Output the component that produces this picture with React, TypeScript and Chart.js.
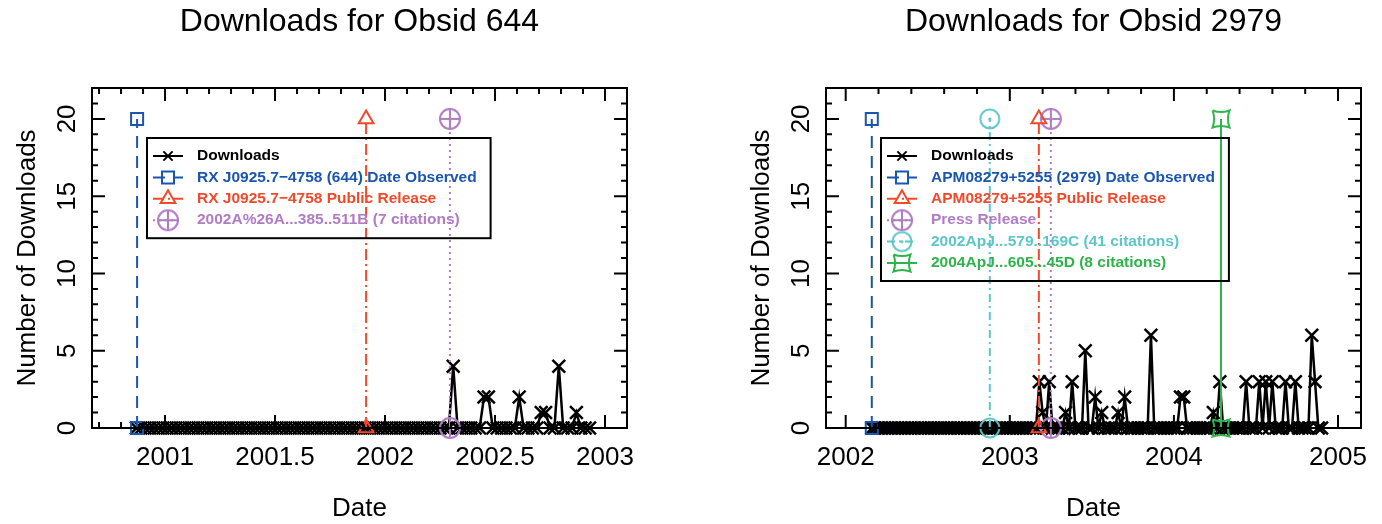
import React, { useEffect, useRef } from "react";
import { Chart, registerables } from "chart.js";
import { drawPoint } from "chart.js/helpers";

Chart.register(...registerables);

const FONT = '"Liberation Sans", Arial, Helvetica, sans-serif';
Chart.defaults.font.family = FONT;
Chart.defaults.color = "#000";

const BLACK = "#000000";
const BLUE = "#1a56b0";
const RED = "#f2492a";
const PURPLE = "#b07cc4";
const CYAN = "#5cc6c8";
const GREEN = "#2fb44c";

// ---------------- Left panel: Obsid 644 ----------------
const LEFT_TITLE = "Downloads for Obsid 644";
const LEFT_DATES = [
  2000.87, 2000.89, 2000.91, 2000.93, 2000.95, 2000.97, 2000.99,
  2001.01, 2001.03, 2001.05, 2001.07, 2001.09, 2001.11, 2001.13, 2001.15, 2001.17, 2001.19,
  2001.21, 2001.23, 2001.25, 2001.27, 2001.29, 2001.31, 2001.33, 2001.35, 2001.37, 2001.39,
  2001.41, 2001.43, 2001.45, 2001.47, 2001.49, 2001.51, 2001.53, 2001.55, 2001.57, 2001.59,
  2001.61, 2001.63, 2001.65, 2001.67, 2001.69, 2001.71, 2001.73, 2001.75, 2001.77, 2001.79,
  2001.81, 2001.83, 2001.85, 2001.87, 2001.89, 2001.91, 2001.93, 2001.95, 2001.97, 2001.99,
  2002.01, 2002.03, 2002.05, 2002.07, 2002.09, 2002.11, 2002.13, 2002.15, 2002.17, 2002.19,
  2002.21, 2002.23, 2002.25, 2002.27, 2002.29, 2002.31, 2002.33, 2002.35, 2002.37, 2002.39,
  2002.41, 2002.43, 2002.45, 2002.47, 2002.49, 2002.51, 2002.53, 2002.55, 2002.57, 2002.59,
  2002.61, 2002.63, 2002.65, 2002.67, 2002.69, 2002.71, 2002.73, 2002.75, 2002.77, 2002.79,
  2002.81, 2002.83, 2002.85, 2002.87, 2002.89, 2002.91, 2002.93,
];
const LEFT_DOWNLOADS = [
  0, 0, 0, 0, 0, 0, 0,
  0, 0, 0, 0, 0, 0, 0, 0, 0, 0,
  0, 0, 0, 0, 0, 0, 0, 0, 0, 0,
  0, 0, 0, 0, 0, 0, 0, 0, 0, 0,
  0, 0, 0, 0, 0, 0, 0, 0, 0, 0,
  0, 0, 0, 0, 0, 0, 0, 0, 0, 0,
  0, 0, 0, 0, 0, 0, 0, 0, 0, 0,
  0, 0, 0, 0, 0, 4, 0, 0, 0, 0,
  0, 0, 2, 2, 0, 0, 0, 0, 0, 0,
  2, 0, 0, 0, 0, 1, 1, 0, 0, 4,
  0, 0, 0, 1, 0, 0, 0,
];
const LEFT_EVENT_LABELS = [
  "RX J0925.7\u22124758 (644) Date Observed",
  "RX J0925.7\u22124758 Public Release",
  "2002A%26A...385..511B (7 citations)",
];
const LEFT_EVENT_DATES = [2000.873, 2001.914, 2002.295];
const LEFT_EVENT_KINDS = ["observed", "release", "press"];
const LEFT_X_RANGE = [2000.668, 2003.1];
const LEFT_X_LABELS = [2001, 2001.5, 2002, 2002.5, 2003];
const LEFT_X_MINOR = 0.1;

// ---------------- Right panel: Obsid 2979 ----------------
const RIGHT_TITLE = "Downloads for Obsid 2979";
const RIGHT_DATES = [
  2002.16, 2002.18,
  2002.2, 2002.22, 2002.24, 2002.26, 2002.28, 2002.3, 2002.32, 2002.34, 2002.36, 2002.38,
  2002.4, 2002.42, 2002.44, 2002.46, 2002.48, 2002.5, 2002.52, 2002.54, 2002.56, 2002.58,
  2002.6, 2002.62, 2002.64, 2002.66, 2002.68, 2002.7, 2002.72, 2002.74, 2002.76, 2002.78,
  2002.8, 2002.82, 2002.84, 2002.86, 2002.88, 2002.9, 2002.92, 2002.94, 2002.96, 2002.98,
  2003.0, 2003.02, 2003.04, 2003.06, 2003.08, 2003.1, 2003.12, 2003.14, 2003.16, 2003.18,
  2003.2, 2003.22, 2003.24, 2003.26, 2003.28, 2003.3, 2003.32, 2003.34, 2003.36, 2003.38,
  2003.4, 2003.42, 2003.44, 2003.46, 2003.48, 2003.5, 2003.52, 2003.54, 2003.56, 2003.58,
  2003.6, 2003.62, 2003.64, 2003.66, 2003.68, 2003.7, 2003.72, 2003.74, 2003.76, 2003.78,
  2003.8, 2003.82, 2003.84, 2003.86, 2003.88, 2003.9, 2003.92, 2003.94, 2003.96, 2003.98,
  2004.0, 2004.02, 2004.04, 2004.06, 2004.08, 2004.1, 2004.12, 2004.14, 2004.16, 2004.18,
  2004.2, 2004.22, 2004.24, 2004.26, 2004.28, 2004.3, 2004.32, 2004.34, 2004.36, 2004.38,
  2004.4, 2004.42, 2004.44, 2004.46, 2004.48, 2004.5, 2004.52, 2004.54, 2004.56, 2004.58,
  2004.6, 2004.62, 2004.64, 2004.66, 2004.68, 2004.7, 2004.72, 2004.74, 2004.76, 2004.78,
  2004.8, 2004.82, 2004.84, 2004.86, 2004.88, 2004.9,
];
const RIGHT_DOWNLOADS = [
  0, 0,
  0, 0, 0, 0, 0, 0, 0, 0, 0, 0,
  0, 0, 0, 0, 0, 0, 0, 0, 0, 0,
  0, 0, 0, 0, 0, 0, 0, 0, 0, 0,
  0, 0, 0, 0, 0, 0, 0, 0, 0, 0,
  0, 0, 0, 0, 0, 0, 0, 0, 0, 3,
  1, 0, 3, 0, 0, 0, 0, 1, 0, 3,
  0, 0, 0, 5, 0, 0, 2, 0, 1, 0,
  0, 0, 0, 1, 0, 2, 0, 0, 0, 0,
  0, 0, 0, 6, 0, 0, 0, 0, 0, 0,
  0, 0, 2, 2, 0, 0, 0, 0, 0, 0,
  0, 0, 1, 0, 3, 0, 0, 0, 0, 0,
  0, 0, 3, 0, 0, 0, 3, 0, 3, 0,
  3, 0, 0, 0, 3, 0, 0, 3, 0, 0,
  0, 0, 6, 3, 0, 0,
];
const RIGHT_EVENT_LABELS = [
  "APM08279+5255 (2979) Date Observed",
  "APM08279+5255 Public Release",
  "Press Release",
  "2002ApJ...579..169C (41 citations)",
  "2004ApJ...605...45D (8 citations)",
];
const RIGHT_EVENT_DATES = [2002.159, 2003.177, 2003.25, 2002.878, 2004.287];
const RIGHT_EVENT_KINDS = ["observed", "release", "press", "paperA", "paperB"];
const RIGHT_X_RANGE = [2001.88, 2005.14];
const RIGHT_X_LABELS = [2002, 2003, 2004, 2005];
const RIGHT_X_MINOR = 0.2;

// ---------------- shared axis values ----------------
const Y_RANGE = [0, 22];
const Y_LABELS = [0, 5, 10, 15, 20];
const Y_MINOR = 1;
const EVENT_SPAN = [0, 20];

function makeSymbol(size: number, draw: (g: CanvasRenderingContext2D, c: number) => void) {
  const cv = document.createElement("canvas");
  cv.width = size;
  cv.height = size;
  const g = cv.getContext("2d")!;
  draw(g, size / 2);
  return cv;
}

function buildStyles() {
  const circlePlus = makeSymbol(24, (g, c) => {
    g.strokeStyle = PURPLE;
    g.lineWidth = 2;
    g.beginPath();
    g.arc(c, c, 10, 0, Math.PI * 2);
    g.moveTo(c - 10, c);
    g.lineTo(c + 10, c);
    g.moveTo(c, c - 10);
    g.lineTo(c, c + 10);
    g.stroke();
  });
  const circleDot = makeSymbol(24, (g, c) => {
    g.strokeStyle = CYAN;
    g.fillStyle = CYAN;
    g.lineWidth = 2;
    g.beginPath();
    g.arc(c, c, 9.5, 0, Math.PI * 2);
    g.stroke();
    g.beginPath();
    g.arc(c, c, 1.6, 0, Math.PI * 2);
    g.fill();
  });
  const concave = makeSymbol(24, (g, c) => {
    const s = 8.5;
    const k = 3.2;
    g.strokeStyle = GREEN;
    g.lineWidth = 2;
    g.beginPath();
    g.moveTo(c - s, c - s);
    g.quadraticCurveTo(c, c - s + k, c + s, c - s);
    g.quadraticCurveTo(c + s - k, c, c + s, c + s);
    g.quadraticCurveTo(c, c + s - k, c - s, c + s);
    g.quadraticCurveTo(c - s + k, c, c - s, c - s);
    g.stroke();
  });
  return {
    observed: { color: BLUE, dash: [12, 8], point: "rect" as any, radius: 8.5 },
    release: { color: RED, dash: [11, 4, 2, 4], point: "triangle" as any, radius: 8.5 },
    press: { color: PURPLE, dash: [2, 4], point: circlePlus as any, radius: 10 },
    paperA: { color: CYAN, dash: [8, 4, 2, 4], point: circleDot as any, radius: 10 },
    paperB: { color: GREEN, dash: [] as number[], point: concave as any, radius: 10 },
  } as Record<string, { color: string; dash: number[]; point: any; radius: number }>;
}

const frameTicks = {
  id: "frameTicks",
  afterDraw(chart: any) {
    const { ctx, chartArea, scales } = chart;
    const { left, right, top, bottom } = chartArea;
    const x = scales.x;
    const y = scales.y;
    ctx.save();
    ctx.strokeStyle = "#000";
    ctx.lineWidth = 2;
    ctx.setLineDash([]);
    ctx.beginPath();
    for (const t of x.ticks) {
      const px = x.getPixelForValue(t.value);
      const len = t.label ? 13 : 6;
      ctx.moveTo(px, bottom);
      ctx.lineTo(px, bottom - len);
      ctx.moveTo(px, top);
      ctx.lineTo(px, top + len);
    }
    for (const t of y.ticks) {
      const py = y.getPixelForValue(t.value);
      const len = t.label ? 13 : 6;
      ctx.moveTo(left, py);
      ctx.lineTo(left + len, py);
      ctx.moveTo(right, py);
      ctx.lineTo(right - len, py);
    }
    ctx.stroke();
    ctx.strokeRect(left, top, right - left, bottom - top);
    ctx.restore();
  },
};

const boxLegend = {
  id: "boxLegend",
  afterDatasetsDraw(chart: any, _args: any, opts: any) {
    const { ctx, chartArea } = chart;
    const ds = chart.data.datasets;
    const x0 = chartArea.left + opts.offsetX;
    const y0 = chartArea.top + opts.offsetY;
    ctx.save();
    ctx.font = `bold ${opts.fontSize}px ${FONT}`;
    let maxW = 0;
    ds.forEach((d: any) => {
      maxW = Math.max(maxW, ctx.measureText(d.label).width);
    });
    const w = opts.textX + maxW + opts.padRight;
    const h = (ds.length - 1) * opts.rowH + 2 * opts.firstRow;
    ctx.strokeStyle = "#000";
    ctx.lineWidth = 2;
    ctx.setLineDash([]);
    ctx.strokeRect(x0, y0, w, h);
    ds.forEach((d: any, i: number) => {
      const yy = y0 + opts.firstRow + i * opts.rowH;
      ctx.strokeStyle = d.borderColor;
      ctx.lineWidth = 2;
      ctx.setLineDash(d.borderDash || []);
      ctx.beginPath();
      ctx.moveTo(x0 + 6, yy);
      ctx.lineTo(x0 + 36, yy);
      ctx.stroke();
      ctx.setLineDash([]);
      ctx.fillStyle = "rgba(0,0,0,0)";
      const r = d.label === "Downloads" ? 6.5 : d.pointRadius;
      drawPoint(ctx, { pointStyle: d.pointStyle, radius: r, borderWidth: 2, rotation: 0 } as any, x0 + 21, yy);
      ctx.fillStyle = d.borderColor;
      ctx.textBaseline = "middle";
      ctx.textAlign = "left";
      ctx.fillText(d.label, x0 + opts.textX, yy);
    });
    ctx.restore();
  },
};

function labelFor(list: number[]) {
  return (v: any) => {
    const n = Number(v);
    const hit = list.find((m) => Math.abs(m - n) < 1e-6);
    return hit === undefined ? "" : String(hit);
  };
}

type PanelProps = {
  left: number;
  width: number;
  rightPad: number;
  title: string;
  dates: number[];
  values: number[];
  eventLabels: string[];
  eventDates: number[];
  eventKinds: string[];
  xRange: number[];
  xLabels: number[];
  xMinor: number;
};

function Panel(p: PanelProps) {
  const ref = useRef<HTMLCanvasElement>(null);
  useEffect(() => {
    const styles = buildStyles();
    const datasets: any[] = [
      {
        label: "Downloads",
        data: p.dates.map((d, i) => ({ x: d, y: p.values[i] })),
        showLine: true,
        borderColor: BLACK,
        borderWidth: 2.5,
        pointStyle: "crossRot",
        pointRadius: 9,
        pointBorderWidth: 2.5,
        pointBorderColor: BLACK,
        pointBackgroundColor: "rgba(0,0,0,0)",
        clip: false,
        order: 1,
        tension: 0,
      },
    ];
    p.eventLabels.forEach((label, i) => {
      const st = styles[p.eventKinds[i]];
      datasets.push({
        label,
        data: EVENT_SPAN.map((v) => ({ x: p.eventDates[i], y: v })),
        showLine: true,
        borderColor: st.color,
        borderWidth: 2,
        borderDash: st.dash,
        pointStyle: st.point,
        pointRadius: st.radius,
        pointBorderWidth: 2,
        pointBorderColor: st.color,
        pointBackgroundColor: "rgba(0,0,0,0)",
        clip: false,
        order: 0,
      });
    });
    const chart = new Chart(ref.current!, {
      type: "scatter",
      data: { datasets },
      plugins: [frameTicks, boxLegend],
      options: {
        responsive: false,
        animation: false,
        events: [],
        layout: { padding: { left: 0, right: p.rightPad, top: 0, bottom: 0 } },
        plugins: {
          legend: { display: false },
          tooltip: { enabled: false },
          title: {
            display: true,
            text: p.title,
            color: "#000",
            fullSize: false,
            font: { size: 32, weight: "normal", family: FONT },
            padding: { top: 3, bottom: 46.6 },
          },
          boxLegend: { offsetX: 55, offsetY: 50, fontSize: 15.5, rowH: 21.4, firstRow: 18, textX: 50, padRight: 14 },
        } as any,
        scales: {
          x: {
            type: "linear",
            min: p.xRange[0],
            max: p.xRange[1],
            afterFit: (s: any) => {
              s.height = 96;
              s.paddingLeft = 0;
              s.paddingRight = 0;
            },
            grid: { display: false, drawTicks: false },
            border: { display: false },
            ticks: {
              stepSize: p.xMinor,
              maxTicksLimit: 1000,
              autoSkip: false,
              includeBounds: false,
              minRotation: 0,
              maxRotation: 0,
              padding: 14,
              color: "#000",
              font: { size: 26 },
              callback: labelFor(p.xLabels),
            },
            title: { display: true, text: "Date", color: "#000", font: { size: 26 }, padding: { top: 0, bottom: 0 } },
          },
          y: {
            type: "linear",
            min: Y_RANGE[0],
            max: Y_RANGE[1],
            afterFit: (s: any) => {
              s.width = 92;
              s.paddingTop = 0;
              s.paddingBottom = 0;
            },
            grid: { display: false, drawTicks: false },
            border: { display: false },
            ticks: {
              stepSize: Y_MINOR,
              maxTicksLimit: 1000,
              autoSkip: false,
              includeBounds: false,
              minRotation: 90,
              maxRotation: 90,
              crossAlign: "center",
              padding: 10,
              color: "#000",
              font: { size: 26 },
              callback: labelFor(Y_LABELS),
            },
            title: {
              display: true,
              text: "Number of Downloads",
              color: "#000",
              font: { size: 26 },
              padding: { top: 12, bottom: 0 },
            },
          },
        } as any,
      },
    });
    return () => chart.destroy();
  }, []);
  return (
    <canvas
      ref={ref}
      width={p.width}
      height={524}
      style={{ position: "absolute", left: p.left, top: 0, width: p.width, height: 524 }}
    />
  );
}

export default function App() {
  return (
    <div style={{ position: "absolute", left: 0, top: 0, width: 1382, height: 524, background: "#fff", overflow: "hidden" }}>
      <Panel
        left={0}
        width={734}
        rightPad={107}
        title={LEFT_TITLE}
        dates={LEFT_DATES}
        values={LEFT_DOWNLOADS}
        eventLabels={LEFT_EVENT_LABELS}
        eventDates={LEFT_EVENT_DATES}
        eventKinds={LEFT_EVENT_KINDS}
        xRange={LEFT_X_RANGE}
        xLabels={LEFT_X_LABELS}
        xMinor={LEFT_X_MINOR}
      />
      <Panel
        left={734}
        width={648}
        rightPad={21}
        title={RIGHT_TITLE}
        dates={RIGHT_DATES}
        values={RIGHT_DOWNLOADS}
        eventLabels={RIGHT_EVENT_LABELS}
        eventDates={RIGHT_EVENT_DATES}
        eventKinds={RIGHT_EVENT_KINDS}
        xRange={RIGHT_X_RANGE}
        xLabels={RIGHT_X_LABELS}
        xMinor={RIGHT_X_MINOR}
      />
    </div>
  );
}
